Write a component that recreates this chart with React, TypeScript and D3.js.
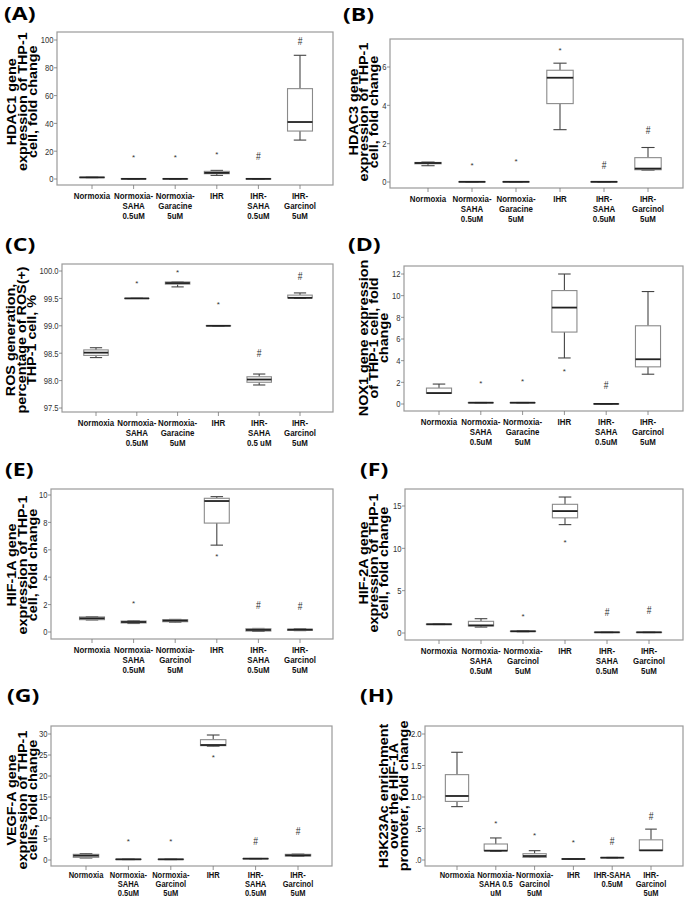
import React from 'react';
import * as d3 from 'd3';

type Stat = [number, number, number, number, number]; // min, q1, median, q3, max

// ---------- categories ----------
const catsA: string[][] = [["Normoxia"], ["Normoxia-", "SAHA", "0.5uM"], ["Normoxia-", "Garacine", "5uM"], ["IHR"], ["IHR-", "SAHA", "0.5uM"], ["IHR-", "Garcinol", "5uM"]];
const catsC: string[][] = [["Normoxia"], ["Normoxia-", "SAHA", "0.5uM"], ["Normoxia-", "Garacine", "5uM"], ["IHR"], ["IHR-", "SAHA", "0.5 uM"], ["IHR-", "Garcinol", "5uM"]];
const catsE: string[][] = [["Normoxia"], ["Normoxia-", "SAHA", "0.5uM"], ["Normoxia-", "Garcinol", "5uM"], ["IHR"], ["IHR-", "SAHA", "0.5uM"], ["IHR-", "Garcinol", "5uM"]];
const catsH: string[][] = [["Normoxia"], ["Normoxia-", "SAHA 0.5", "uM"], ["Normoxia-", "Garcinol", "5uM"], ["IHR"], ["IHR-SAHA", "0.5uM"], ["IHR-", "Garcinol", "5uM"]];

// ---------- titles ----------
const titleA = ["HDAC1 gene", "expression of THP-1", "cell, fold change"];
const titleB = ["HDAC3 gene", "expression of THP-1", "cell, fold change"];
const titleC = ["ROS generation,", "percentage of ROS(+)", "THP-1 cell, %"];
const titleD = ["NOX1 gene expression", "of THP-1 cell, fold", "change"];
const titleE = ["HIF-1A gene", "expression of THP-1", "cell, fold change"];
const titleF = ["HIF-2A gene", "expression of THP-1", "cell, fold change"];
const titleG = ["VEGF-A gene", "expression of THP-1", "cells, fold change"];
const titleH = ["H3K23Ac enrichment", "over the HIF-1A", "promoter, fold change"];

// ---------- ticks ----------
const ticksA = [0, 20, 40, 60, 80, 100];
const ticksB = [0, 2, 4, 6];
const ticksC = [97.5, 98.0, 98.5, 99.0, 99.5, 100.0];
const ticksD = [0, 2, 4, 6, 8, 10, 12];
const ticksE = [0, 2, 4, 6, 8, 10];
const ticksF = [0, 5, 10, 15];
const ticksG = [0, 5, 10, 15, 20, 25, 30];
const ticksH = [0, 0.5, 1.0, 1.5, 2.0];

// ---------- box statistics ----------
const statsA: Stat[] = [[1.0, 1.05, 1.15, 1.25, 1.3], [0.05, 0.08, 0.1, 0.12, 0.15], [0.05, 0.08, 0.1, 0.12, 0.15], [2.6, 3.8, 4.4, 5.5, 6.2], [0.05, 0.07, 0.1, 0.12, 0.15], [28, 34.5, 41, 65, 89]];
const statsB: Stat[] = [[0.85, 0.95, 0.99, 1.02, 1.04], [0, 0, 0.01, 0.02, 0.02], [0, 0, 0.01, 0.02, 0.02], [2.73, 4.09, 5.44, 5.83, 6.2], [0, 0, 0.01, 0.02, 0.02], [0.62, 0.64, 0.7, 1.27, 1.8]];
const statsC: Stat[] = [[98.42, 98.46, 98.51, 98.56, 98.6], [99.5, 99.5, 99.5, 99.5, 99.5], [99.71, 99.76, 99.78, 99.8, 99.8], [99.0, 99.0, 99.0, 99.0, 99.0], [97.92, 97.97, 98.02, 98.07, 98.12], [99.5, 99.51, 99.51, 99.56, 99.6]];
const statsD: Stat[] = [[1.0, 1.0, 1.01, 1.47, 1.84], [0.1, 0.11, 0.12, 0.13, 0.14], [0.1, 0.11, 0.12, 0.13, 0.14], [4.25, 6.64, 8.9, 10.47, 12.0], [0, 0, 0.01, 0.02, 0.02], [2.75, 3.43, 4.13, 7.22, 10.38]];
const statsE: Stat[] = [[0.88, 0.9, 1.0, 1.1, 1.12], [0.62, 0.66, 0.73, 0.8, 0.82], [0.72, 0.75, 0.83, 0.9, 0.92], [6.34, 7.95, 9.56, 9.76, 9.88], [0.04, 0.07, 0.15, 0.24, 0.26], [0.1, 0.12, 0.17, 0.2, 0.22]];
const statsF: Stat[] = [[1.0, 1.0, 1.03, 1.06, 1.08], [0.7, 0.83, 0.9, 1.38, 1.69], [0.15, 0.18, 0.2, 0.22, 0.25], [12.8, 13.6, 14.4, 15.2, 16.06], [0.05, 0.06, 0.08, 0.09, 0.1], [0.05, 0.06, 0.08, 0.09, 0.1]];
const statsG: Stat[] = [[0.48, 0.63, 1.03, 1.35, 1.5], [0.1, 0.12, 0.16, 0.18, 0.2], [0.1, 0.12, 0.16, 0.18, 0.2], [27.1, 27.22, 27.38, 28.65, 29.76], [0.28, 0.3, 0.32, 0.34, 0.36], [0.9, 0.95, 1.11, 1.35, 1.4]];
const statsH: Stat[] = [[0.847, 0.93, 1.016, 1.355, 1.71], [0.14, 0.148, 0.148, 0.254, 0.35], [0.04, 0.042, 0.063, 0.1, 0.148], [0.012, 0.014, 0.016, 0.018, 0.02], [0.033, 0.035, 0.037, 0.039, 0.041], [0.153, 0.153, 0.153, 0.32, 0.49]];

// ---------- significance markers ----------
const marksA = ["", "*", "*", "*", "#", "#"];
const markValsA = [0, 17, 17.5, 19.5, 16.3, 99];
const marksB = ["", "*", "*", "*", "#", "#"];
const markValsB = [0, 1.0, 1.18, 7.0, 0.87, 2.7];
const marksC = ["", "*", "*", "*", "#", "#"];
const markValsC = [0, 99.82, 100.02, 99.44, 98.49, 99.9];
const marksD = ["", "*", "*", "*", "#", ""];
const markValsD = [0, 2.1, 2.35, 3.2, 1.7, 0];
const marksE = ["", "*", "", "*", "#", "#"];
const markValsE = [0, 2.27, 0, 5.68, 1.95, 1.88];
const marksF = ["", "", "*", "*", "#", "#"];
const markValsF = [0, 0, 2.28, 11.0, 2.48, 2.68];
const marksG = ["", "*", "*", "*", "#", "#"];
const markValsG = [0, 5.0, 5.0, 25.08, 4.3, 6.75];
const marksH = ["", "*", "*", "*", "#", "#"];
const markValsH = [0, 0.62, 0.43, 0.31, 0.29, 0.69];

const fmtInt = (d: number) => String(d);
const fmtC = (d: number) => d.toFixed(1);
const fmtH = (d: number) => (d === 0 ? ".0" : d === 0.5 ? ".5" : d.toFixed(1));

interface PanelCfg {
  label: string; lx: number; ly: number;
  frame: [number, number, number, number];
  xr: [number, number];
  yd: [number, number]; yr: [number, number];
  ticks: number[]; fmt: (d: number) => string;
  title: string[]; tx: number; ty: number;
  cats: string[][]; catOff: number; catPitch: number; catSize: number;
  stats: Stat[]; marks: string[]; markVals: number[];
}

// tx = screen x of the middle title line's baseline, ty = vertical centre of the title
const PANELS: PanelCfg[] = [
  { label: "(A)", lx: 4, ly: 20, frame: [57, 32, 276, 153], xr: [92, 300], yd: [0, 100], yr: [179, 40], ticks: ticksA, fmt: fmtInt, title: titleA, tx: 26.5, ty: 101.7, cats: catsA, catOff: 13.6, catPitch: 10, catSize: 9.4, stats: statsA, marks: marksA, markVals: markValsA },
  { label: "(B)", lx: 343, ly: 21, frame: [390, 39, 293, 149], xr: [428, 648], yd: [0, 6], yr: [182, 67], ticks: ticksB, fmt: fmtInt, title: titleB, tx: 368, ty: 112, cats: catsA, catOff: 13.6, catPitch: 10, catSize: 9.4, stats: statsB, marks: marksB, markVals: markValsB },
  { label: "(C)", lx: 5, ly: 251, frame: [62, 264, 271, 148], xr: [96, 300], yd: [97.5, 100], yr: [408, 271], ticks: ticksC, fmt: fmtC, title: titleC, tx: 25.5, ty: 340, cats: catsC, catOff: 13.6, catPitch: 10, catSize: 9.4, stats: statsC, marks: marksC, markVals: markValsC },
  { label: "(D)", lx: 348, ly: 251, frame: [404, 266, 279, 145], xr: [439, 648], yd: [0, 12], yr: [404, 274], ticks: ticksD, fmt: fmtInt, title: titleD, tx: 378, ty: 338, cats: catsA, catOff: 13.6, catPitch: 10, catSize: 9.4, stats: statsD, marks: marksD, markVals: markValsD },
  { label: "(E)", lx: 5, ly: 476, frame: [51, 489, 282, 150], xr: [92, 300], yd: [0, 10], yr: [632, 495], ticks: ticksE, fmt: fmtInt, title: titleE, tx: 26.5, ty: 565, cats: catsE, catOff: 13.6, catPitch: 10, catSize: 9.4, stats: statsE, marks: marksE, markVals: markValsE },
  { label: "(F)", lx: 360, ly: 476, frame: [405, 489, 278, 151], xr: [439, 649], yd: [0, 15], yr: [633, 506], ticks: ticksF, fmt: fmtInt, title: titleF, tx: 378, ty: 563, cats: catsE, catOff: 13.6, catPitch: 10, catSize: 9.4, stats: statsF, marks: marksF, markVals: markValsF },
  { label: "(G)", lx: 7, ly: 702, frame: [51, 726, 281, 140], xr: [86, 298], yd: [0, 30], yr: [860, 734], ticks: ticksG, fmt: fmtInt, title: titleG, tx: 26.5, ty: 800, cats: catsE, catOff: 12, catPitch: 8.8, catSize: 8.2, stats: statsG, marks: marksG, markVals: markValsG },
  { label: "(H)", lx: 360, ly: 702, frame: [425, 726, 258, 140], xr: [457, 651], yd: [0, 2], yr: [860, 734], ticks: ticksH, fmt: fmtH, title: titleH, tx: 398, ty: 796, cats: catsH, catOff: 12, catPitch: 8.8, catSize: 8.2, stats: statsH, marks: marksH, markVals: markValsH },
];

const SANS = "'Liberation Sans', Arial, sans-serif";

function Panel({ p }: { p: PanelCfg }) {
  const [fx, fy, fw, fh] = p.frame;
  const idx = p.cats.map((_, i) => String(i));
  const x = d3.scalePoint<string>().domain(idx).range(p.xr);
  const y = d3.scaleLinear().domain(p.yd).range(p.yr);
  const step = x.step();
  const bw = step * 0.6;
  const cw = bw * 0.5;
  return (
    <g>
      <text transform={`translate(${p.lx},${p.ly}) scale(1.28,1)`} fontFamily="'Open Sans', sans-serif" fontWeight={700} fontSize={18} fill="#000">{p.label}</text>
      <g transform={`translate(${p.tx},${p.ty}) rotate(-90)`}>
        {p.title.map((t, i) => (
          <text key={i} transform={`translate(0,${(i - 1) * 10.4}) scale(1.14,1)`} textAnchor="middle" fontFamily={SANS} fontWeight={700} fontSize={12.6} fill="#000">{t}</text>
        ))}
      </g>
      <rect x={fx} y={fy} width={fw} height={fh} fill="#fff" stroke="#9a9a9a" strokeWidth={1.2} />
      {p.ticks.map((t, i) => (
        <g key={i}>
          <line x1={fx - 3} x2={fx} y1={y(t)} y2={y(t)} stroke="#777" strokeWidth={0.8} />
          <text transform={`translate(${fx - 3.5},${y(t) + 3.4}) scale(0.78,1)`} textAnchor="end" fontFamily={SANS} fontSize={9.8} fill="#333">{p.fmt(t)}</text>
        </g>
      ))}
      {p.cats.map((c, i) => {
        const cx = x(String(i)) as number;
        return (
          <g key={i}>
            <line x1={cx} x2={cx} y1={fy + fh} y2={fy + fh + 4} stroke="#777" strokeWidth={0.8} />
            {c.map((ln, j) => (
              <text key={j} transform={`translate(${cx},${fy + fh + p.catOff + j * p.catPitch}) scale(${p.catSize < 9 ? 0.92 : 0.84},1)`} textAnchor="middle" fontFamily={SANS} fontWeight={700} fontSize={p.catSize} fill="#111">{ln}</text>
            ))}
          </g>
        );
      })}
      {p.stats.map((s, i) => {
        const cx = x(String(i)) as number;
        const [mn, q1, md, q3, mx] = s;
        return (
          <g key={i}>
            <line x1={cx} x2={cx} y1={y(mx)} y2={y(q3)} stroke="#444" strokeWidth={1.1} />
            <line x1={cx} x2={cx} y1={y(q1)} y2={y(mn)} stroke="#444" strokeWidth={1.1} />
            <line x1={cx - cw / 2} x2={cx + cw / 2} y1={y(mx)} y2={y(mx)} stroke="#444" strokeWidth={1.1} />
            <line x1={cx - cw / 2} x2={cx + cw / 2} y1={y(mn)} y2={y(mn)} stroke="#444" strokeWidth={1.1} />
            <rect x={cx - bw / 2} y={y(q3)} width={bw} height={Math.max(0.01, y(q1) - y(q3))} fill="#fff" stroke="#8a8a8a" strokeWidth={1.1} />
            <line x1={cx - bw / 2} x2={cx + bw / 2} y1={y(md)} y2={y(md)} stroke="#222" strokeWidth={1.8} />
          </g>
        );
      })}
      {p.marks.map((m, i) => {
        if (!m) return null;
        const cx = x(String(i)) as number;
        const yy = y(p.markVals[i]);
        return m === "*" ? (
          <text key={i} x={cx} y={yy + 5} textAnchor="middle" fontFamily={SANS} fontSize={8} fill="#333">*</text>
        ) : (
          <text key={i} transform={`translate(${cx},${yy + 3.5}) scale(0.85,1)`} textAnchor="middle" fontFamily={SANS} fontSize={10} fill="#2a2a2a">#</text>
        );
      })}
    </g>
  );
}

export default function App() {
  return (
    <div style={{ position: 'absolute', left: 0, top: 0 }}>
      <svg width={685} height={898} style={{ display: 'block', background: '#fff' }}>
        {PANELS.map((p, i) => <Panel key={i} p={p} />)}
      </svg>
    </div>
  );
}
